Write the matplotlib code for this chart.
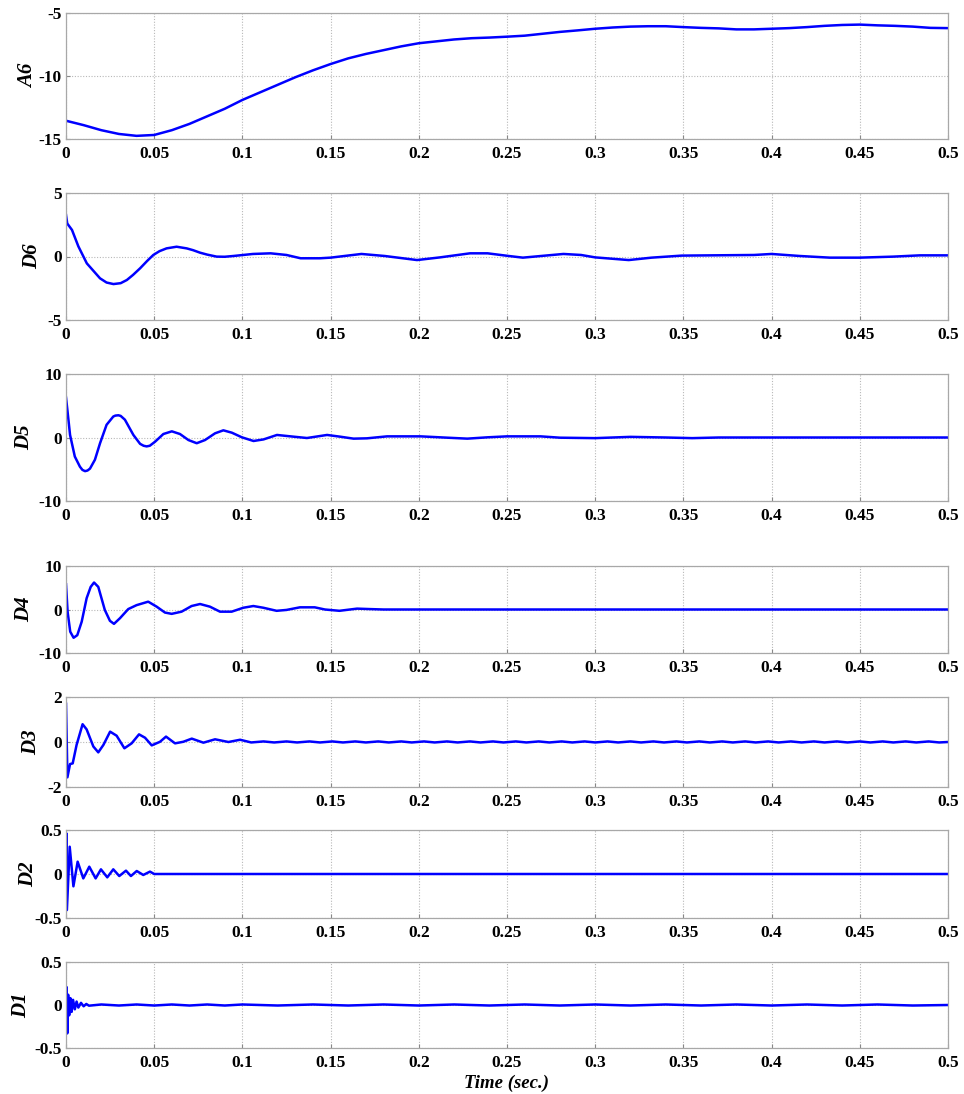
import matplotlib
matplotlib.use("Agg")
import matplotlib.pyplot as plt

# ---------------- data ----------------
xticks = [0, 0.05, 0.1, 0.15, 0.2, 0.25, 0.3, 0.35, 0.4, 0.45, 0.5]
xtick_labels = ["0", "0.05", "0.1", "0.15", "0.2", "0.25", "0.3", "0.35", "0.4", "0.45", "0.5"]

a6_t = [0, 0.01, 0.02, 0.03, 0.04, 0.05, 0.06, 0.07, 0.08, 0.09, 0.1, 0.11, 0.12, 0.13,
        0.14, 0.15, 0.16, 0.17, 0.18, 0.19, 0.2, 0.21, 0.22, 0.23, 0.24, 0.25, 0.26, 0.27,
        0.28, 0.29, 0.3, 0.31, 0.32, 0.33, 0.34, 0.35, 0.36, 0.37, 0.38, 0.39, 0.4, 0.41,
        0.42, 0.43, 0.44, 0.45, 0.46, 0.47, 0.48, 0.49, 0.5]
a6_v = [-13.55, -13.9, -14.3, -14.6, -14.75, -14.68, -14.3, -13.8, -13.2, -12.6, -11.9,
        -11.3, -10.7, -10.1, -9.55, -9.05, -8.6, -8.25, -7.95, -7.65, -7.4, -7.25, -7.1,
        -7.0, -6.95, -6.88, -6.8, -6.65, -6.5, -6.38, -6.25, -6.15, -6.08, -6.05, -6.05,
        -6.12, -6.18, -6.22, -6.3, -6.3, -6.25, -6.2, -6.12, -6.02, -5.95, -5.92, -5.98,
        -6.02, -6.08, -6.18, -6.2]

d6_t = [0, 0.0007, 0.0034, 0.007, 0.0118, 0.0193, 0.023, 0.0269, 0.031, 0.0345, 0.038,
        0.042, 0.046, 0.0495, 0.053, 0.057, 0.0627, 0.0684, 0.072, 0.076, 0.08, 0.0854,
        0.09, 0.0949, 0.106, 0.116, 0.125, 0.133, 0.144, 0.15, 0.1675, 0.1807, 0.199,
        0.212, 0.229, 0.239, 0.251, 0.259, 0.282, 0.292, 0.3, 0.319, 0.332, 0.349, 0.39,
        0.4, 0.416, 0.433, 0.45, 0.469, 0.484, 0.5]
d6_v = [3.27, 2.6, 2.09, 0.8, -0.54, -1.72, -2.05, -2.17, -2.1, -1.85, -1.45, -0.93,
        -0.35, 0.12, 0.42, 0.64, 0.77, 0.64, 0.5, 0.30, 0.15, -0.01, -0.02, 0.04, 0.2,
        0.25, 0.12, -0.14, -0.14, -0.09, 0.2, 0.04, -0.28, -0.07, 0.25, 0.25, 0.04, -0.09,
        0.2, 0.12, -0.07, -0.28, -0.09, 0.07, 0.12, 0.2, 0.04, -0.09, -0.09, -0.01, 0.09,
        0.09]

d5_t = [0, 0.0004, 0.0008, 0.0023, 0.005, 0.0079, 0.0093, 0.0108, 0.0122, 0.0136, 0.0164,
        0.0193, 0.023, 0.0268, 0.028, 0.0297, 0.031, 0.0334, 0.0382, 0.042, 0.044, 0.0457,
        0.0475, 0.0505, 0.0552, 0.06, 0.0646, 0.0694, 0.0741, 0.0788, 0.0845, 0.0892,
        0.094, 0.0997, 0.1063, 0.112, 0.1196, 0.129, 0.1366, 0.148, 0.1554, 0.163,
        0.1706, 0.182, 0.201, 0.2162, 0.2275, 0.239, 0.25, 0.269, 0.28, 0.3, 0.32, 0.34,
        0.355, 0.37, 0.5]
d5_v = [6.3, 5.3, 4.3, 0.4, -3.0, -4.6, -5.1, -5.3, -5.2, -4.9, -3.5, -0.9, 2.0, 3.3,
        3.45, 3.5, 3.4, 2.8, 0.4, -1.0, -1.3, -1.4, -1.3, -0.66, 0.55, 0.97, 0.55, -0.4,
        -0.9, -0.4, 0.66, 1.13, 0.76, 0.03, -0.55, -0.3, 0.4, 0.13, -0.08, 0.4, 0.13,
        -0.18, -0.13, 0.18, 0.18, -0.03, -0.18, 0.03, 0.18, 0.18, -0.03, -0.1, 0.1, 0.0,
        -0.1, 0.0, 0.0]

d4_t = [0, 0.0009, 0.0024, 0.0043, 0.0064, 0.0089, 0.0117, 0.014, 0.0159, 0.0183, 0.022,
        0.0249, 0.0272, 0.0306, 0.0353, 0.04, 0.0466, 0.0514, 0.0561, 0.0599, 0.0655,
        0.0712, 0.076, 0.0816, 0.0873, 0.0939, 0.1005, 0.1062, 0.1119, 0.1194, 0.125,
        0.1326, 0.141, 0.1468, 0.155, 0.165, 0.172, 0.18, 0.5]
d4_v = [5.8, -0.5, -5.1, -6.5, -5.9, -2.8, 2.6, 5.2, 6.2, 5.2, -0.1, -2.6, -3.3, -2.0,
        0.1, 1.0, 1.8, 0.65, -0.7, -1.0, -0.5, 0.8, 1.26, 0.65, -0.5, -0.5, 0.4, 0.8, 0.4,
        -0.3, -0.1, 0.5, 0.5, 0.0, -0.3, 0.2, 0.1, 0.0, 0.0]

d3_t = [0, 0.0004, 0.0008, 0.0023, 0.0038, 0.006, 0.0094, 0.0117, 0.0155, 0.0183, 0.0212,
        0.025, 0.0287, 0.0331, 0.0372, 0.0414, 0.0448, 0.0486, 0.0533, 0.0567, 0.0618,
        0.0665, 0.0713, 0.0779, 0.0845, 0.0921, 0.0987,
        0.105, 0.112, 0.118, 0.125, 0.131, 0.138, 0.144, 0.151, 0.157, 0.164, 0.170,
        0.177, 0.183, 0.190, 0.196, 0.203, 0.209, 0.216, 0.222, 0.229, 0.235, 0.242,
        0.248, 0.255, 0.261, 0.268, 0.274, 0.281, 0.287, 0.294, 0.300, 0.307, 0.313,
        0.320, 0.326, 0.333, 0.339, 0.346, 0.352, 0.359, 0.365, 0.372, 0.378, 0.385,
        0.391, 0.398, 0.404, 0.411, 0.417, 0.424, 0.430, 0.437, 0.443, 0.450, 0.456,
        0.463, 0.469, 0.476, 0.482, 0.489, 0.495, 0.500]
d3_v = [1.7, 0.09, -1.57, -0.98, -0.95, -0.13, 0.79, 0.56, -0.2, -0.46, -0.13, 0.46,
        0.28, -0.28, -0.06, 0.34, 0.19, -0.15, 0.01, 0.24, -0.06, 0.01, 0.15, -0.03, 0.12,
        0.0, 0.1,
        -0.02, 0.025, -0.02, 0.025, -0.02, 0.025, -0.02, 0.025, -0.02, 0.025, -0.02,
        0.025, -0.02, 0.025, -0.02, 0.025, -0.02, 0.025, -0.02, 0.025, -0.02, 0.025,
        -0.02, 0.025, -0.02, 0.025, -0.02, 0.025, -0.02, 0.025, -0.02, 0.025, -0.02,
        0.025, -0.02, 0.025, -0.02, 0.025, -0.02, 0.025, -0.02, 0.025, -0.02, 0.025,
        -0.02, 0.025, -0.02, 0.025, -0.02, 0.025, -0.02, 0.025, -0.02, 0.025, -0.02,
        0.025, -0.02, 0.025, -0.02, 0.025, -0.02, 0.0]

d2_t = [0, 0.0003, 0.0005, 0.0021, 0.0042, 0.0066, 0.0098, 0.0132, 0.0168, 0.0198,
        0.0234, 0.0268, 0.0302, 0.034, 0.0368, 0.0401, 0.0438, 0.0476, 0.05, 0.5]
d2_v = [0.0, 0.46, -0.41, 0.31, -0.14, 0.14, -0.05, 0.083, -0.05, 0.053, -0.038, 0.053,
        -0.023, 0.038, -0.023, 0.034, -0.011, 0.027, 0.0, 0.0]

d1_t = [0, 0.0003, 0.0007, 0.0012, 0.0018, 0.0025, 0.0032, 0.004, 0.005, 0.006, 0.007,
        0.0085, 0.010, 0.0115, 0.013, 0.02, 0.03, 0.04, 0.05, 0.06, 0.07, 0.08, 0.09,
        0.1, 0.12, 0.14, 0.16, 0.18, 0.2, 0.22, 0.24, 0.26, 0.28, 0.3, 0.32, 0.34, 0.36,
        0.38, 0.4, 0.42, 0.44, 0.46, 0.48, 0.5]
d1_v = [0.0, 0.21, -0.33, 0.12, -0.12, 0.08, -0.08, 0.06, -0.05, 0.04, -0.03, 0.025,
        -0.015, 0.012, -0.008, 0.006, -0.006, 0.006, -0.006, 0.006, -0.006, 0.006,
        -0.006, 0.006, -0.006, 0.006, -0.006, 0.006, -0.006, 0.006, -0.006, 0.006,
        -0.006, 0.006, -0.006, 0.006, -0.006, 0.006, -0.006, 0.006, -0.006, 0.006,
        -0.006, 0.0]

panels = [
    ("A6", a6_t, a6_v, (-15, -5), [-15, -10, -5], ["-15", "-10", "-5"]),
    ("D6", d6_t, d6_v, (-5, 5), [-5, 0, 5], ["-5", "0", "5"]),
    ("D5", d5_t, d5_v, (-10, 10), [-10, 0, 10], ["-10", "0", "10"]),
    ("D4", d4_t, d4_v, (-10, 10), [-10, 0, 10], ["-10", "0", "10"]),
    ("D3", d3_t, d3_v, (-2, 2), [-2, 0, 2], ["-2", "0", "2"]),
    ("D2", d2_t, d2_v, (-0.5, 0.5), [-0.5, 0, 0.5], ["-0.5", "0", "0.5"]),
    ("D1", d1_t, d1_v, (-0.5, 0.5), [-0.5, 0, 0.5], ["-0.5", "0", "0.5"]),
]

# axes pixel boxes (top, bottom) in a 964x1094 figure
boxes = [(13, 139), (193, 320), (374, 501), (566, 653), (697, 787), (830, 918), (962, 1048)]
# anchor x (pixels) of each rotated y label
label_right = [38, 42, 34, 34, 41, 38, 31]

W, H = 964, 1094
fig = plt.figure(figsize=(W / 100, H / 100), dpi=100)
serif = ["Liberation Serif", "DejaVu Serif"]
left, right = 66, 948

for (name, t, v, ylim, yt, ytl), (top, bot), lr in zip(panels, boxes, label_right):
    ax = fig.add_axes([left / W, 1 - bot / H, (right - left) / W, (bot - top) / H])
    ax.plot(t, v, color="#0000FF", linewidth=1.8, solid_joinstyle="round")
    ax.set_xlim(0, 0.5)
    ax.set_ylim(*ylim)
    ax.set_xticks(xticks)
    ax.set_xticklabels(xtick_labels, fontfamily=serif, fontweight="bold", fontsize=12.5)
    ax.set_yticks(yt)
    ax.set_yticklabels(ytl, fontfamily=serif, fontweight="bold", fontsize=12.5)
    ax.grid(True, color="#b8b8b8", linestyle=(0, (1, 1.5)), linewidth=0.8)
    ax.tick_params(direction="in", length=3, color="#888888")
    ax.tick_params(axis="x", pad=5)
    ax.tick_params(axis="y", pad=3)
    for s in ax.spines.values():
        s.set_color("#a8a8a8")
        s.set_linewidth(0.9)
    ax.set_ylabel(name, fontfamily=serif, fontweight="bold", fontstyle="italic",
                  fontsize=15)
    ax.yaxis.set_label_coords((lr - left) / (right - left), 0.5)
    last = ax

last.set_xlabel("Time (sec.)", fontfamily=serif, fontweight="bold", fontstyle="italic",
                fontsize=13.5, labelpad=3)

fig.savefig("out.png", dpi=100)
